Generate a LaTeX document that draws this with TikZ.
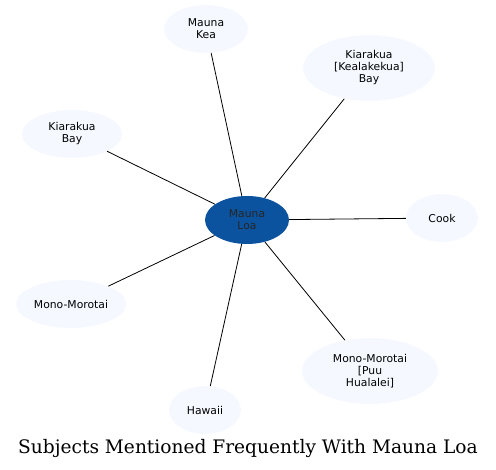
\documentclass[tikz,border=0pt]{standalone}
\usepackage{fontspec}
\setsansfont{DejaVu Sans}
\newfontfamily\captionfont{DejaVu Serif}
\usepackage{tikz}
\usetikzlibrary{shapes.geometric,positioning}
\definecolor{hubblue}{RGB}{11,83,158}
\definecolor{palefill}{RGB}{245,249,255}

\begin{document}
\begin{tikzpicture}[x=1pt, y=-1pt,
        subject/.style={ellipse, fill=palefill, inner sep=0pt, align=center,
            font=\sffamily\fontsize{10.8}{12}\selectfont, minimum height=48pt},
        hub/.style={subject, fill=hubblue, text=black!85},
        link/.style={draw, line width=0.8pt}]
        \useasboundingbox (0,0) rectangle (496,470);

        \node[hub, minimum width=84pt] (loa) at (247,220) {Mauna\\Loa};
        \node[subject, minimum width=84pt] (kea) at (206,29) {Mauna\\Kea};
        \node[subject, minimum width=132pt, minimum height=66pt] (kkbay) at (369,68) {Kiarakua\\{[}Kealakekua{]}\\Bay};
        \node[subject, minimum width=100pt] (kbay) at (72,134) {Kiarakua\\Bay};
        \node[subject, minimum width=72pt] (cook) at (442,218) {Cook};
        \node[subject, minimum width=110pt] (mono) at (71,304) {Mono-Morotai};
        \node[subject, minimum width=72pt] (hawaii) at (205,410) {Hawaii};
        \node[subject, minimum width=136pt, minimum height=66pt] (puu) at (370,371) {Mono-Morotai\\{[}Puu\\Hualalei{]}};

        \node[font=\captionfont\fontsize{18.6}{22}\selectfont, anchor=base] (title) at (248,454) {Subjects Mentioned Frequently With Mauna Loa};

        \draw[link] (loa) -- (kea);
        \draw[link] (loa) -- (kkbay);
        \draw[link] (loa) -- (kbay);
        \draw[link] (loa) -- (cook);
        \draw[link] (loa) -- (mono);
        \draw[link] (loa) -- (hawaii);
        \draw[link] (loa) -- (puu);
    \end{tikzpicture}
\end{document}
